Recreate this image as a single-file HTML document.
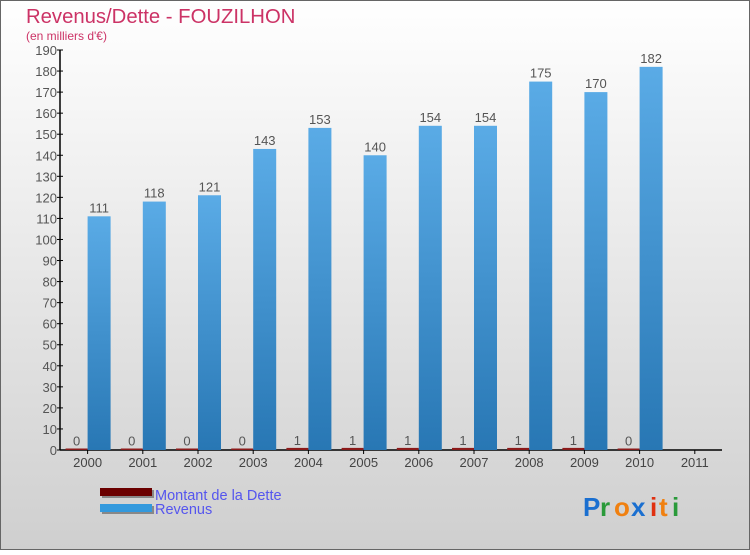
<!DOCTYPE html>
<html><head><meta charset="utf-8"><style>
html,body{margin:0;padding:0}
body{width:750px;height:550px;overflow:hidden;font-family:"Liberation Sans",sans-serif}
</style></head><body>
<svg id="c" width="750" height="550" xmlns="http://www.w3.org/2000/svg">
<defs>
<linearGradient id="bg" x1="0" y1="0" x2="0" y2="1"><stop offset="0" stop-color="#ffffff"/><stop offset="1" stop-color="#cfcfcf"/></linearGradient>
<linearGradient id="rev" x1="0" y1="0" x2="0" y2="1"><stop offset="0" stop-color="#5aabe6"/><stop offset="1" stop-color="#2877b4"/></linearGradient>
</defs>
<rect x="0.5" y="0.5" width="749" height="549" fill="url(#bg)" stroke="#666"/>
<text x="26" y="23" font-size="20.3" fill="#cc3366">Revenus/Dette - FOUZILHON</text>
<text x="26" y="40" font-size="12" fill="#cc3366">(en milliers d'€)</text>
<g id="plot"></g>
<g>
<rect x="102" y="490" width="52" height="8" fill="#888"/><rect x="100" y="488" width="52" height="8" fill="#6b0000"/>
<text x="155" y="500" font-size="14.5" fill="#5555ee">Montant de la Dette</text>
<rect x="102" y="506" width="52" height="8" fill="#888"/><rect x="100" y="504" width="52" height="8" fill="#3399dd"/>
<text x="155" y="514" font-size="14.5" fill="#5555ee">Revenus</text>
</g>
<g font-size="26" font-weight="bold">
<text x="583" y="516" fill="#1a6fd0">P</text><text x="600" y="516" fill="#2a9a3a">r</text><text x="614" y="516" fill="#f08010">o</text><text x="631" y="516" fill="#1a6fd0">x</text><text x="650" y="516" fill="#e03010">i</text><text x="659" y="516" fill="#f08010">t</text><text x="672" y="516" fill="#2a9a3a">i</text>
</g>
</svg>
<script>
const years=["2000","2001","2002","2003","2004","2005","2006","2007","2008","2009","2010","2011"];
const dette=[0,0,0,0,1,1,1,1,1,1,0,null];
const revenus=[111,118,121,143,153,140,154,154,175,170,182,null];
const yTicks=[0,10,20,30,40,50,60,70,80,90,100,110,120,130,140,150,160,170,180,190];
const NS="http://www.w3.org/2000/svg";
const g=document.getElementById('plot');
const x0=60,y0=450,yTop=50,ymax=190,slot=55.2;
function y(v){return y0-(v/ymax)*(y0-yTop);}
function cx(i){return x0+slot*i+27.6;}
function mk(t,a,txt){const e=document.createElementNS(NS,t);for(const k in a)e.setAttribute(k,a[k]);if(txt!==undefined)e.textContent=txt;g.appendChild(e);return e;}
let e=mk('line',{x1:x0,y1:yTop,x2:x0,y2:y0,stroke:'#000','stroke-width':1.5});


e=mk('line',{x1:x0,y1:y0,x2:722,y2:y0,stroke:'#000','stroke-width':1.5});


yTicks.forEach(v=>{
 mk('line',{x1:x0-3,y1:y(v),x2:x0+3,y2:y(v),stroke:'#000'});
 e=mk('text',{x:x0-3,y:y(v)+5,'font-size':13,fill:'#555','text-anchor':'end'},v);
 
 
});
years.forEach((yr,i)=>{
 const c=cx(i);
 mk('line',{x1:c,y1:y0,x2:c,y2:y0+4,stroke:'#000'});
 e=mk('text',{x:c,y:y0+17,'font-size':13,fill:'#444','text-anchor':'middle'},yr);
 
 
 if(dette[i]!==null){
  const h=Math.max(y0-y(dette[i]),1.5);
  e=mk('rect',{x:c-22,y:y0-h,width:22,height:h,fill:'#8b1a1a'});
  
  
  e=mk('text',{x:c-11,y:y0-h-3,'font-size':13,fill:'#555','text-anchor':'middle'},dette[i]);
  
  
 }
 if(revenus[i]!==null){
  const t=y(revenus[i]);
  e=mk('rect',{x:c,y:t,width:23,height:y0-t,fill:'url(#rev)'});
  
  
  e=mk('text',{x:c+11.5,y:t-4,'font-size':13,fill:'#555','text-anchor':'middle'},revenus[i]);
  
  
 }
});
</script>
</body></html>
